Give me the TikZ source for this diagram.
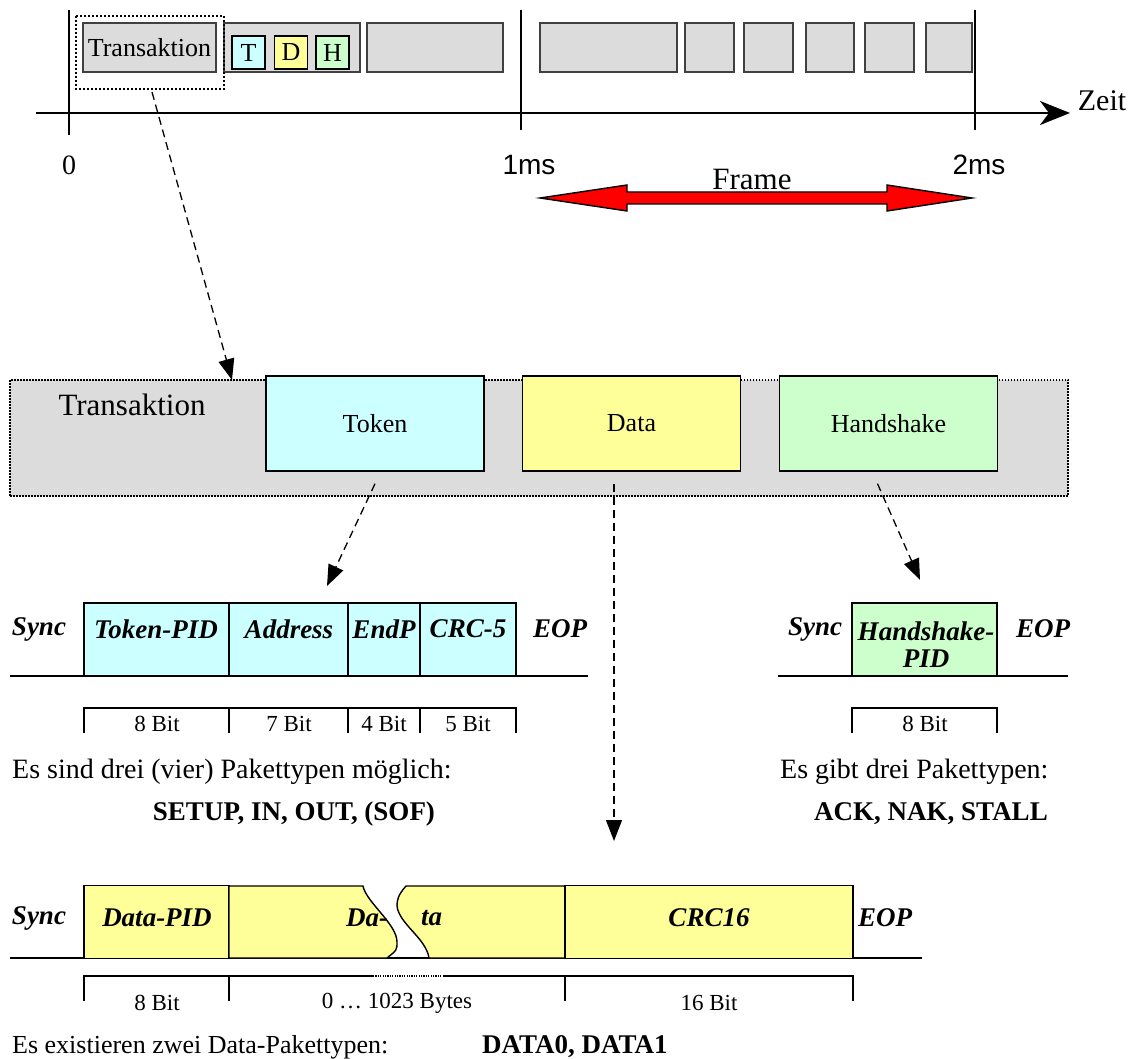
\documentclass[tikz,border=0pt]{standalone}
\usepackage{fontspec}
\setmainfont{Liberation Serif}
\newfontfamily\arialfont{Liberation Sans}
\usetikzlibrary{arrows.meta}
\definecolor{boxgray}{HTML}{DCDCDC}
\definecolor{tokcyan}{HTML}{CCFFFF}
\definecolor{datyellow}{HTML}{FFFF99}
\definecolor{hsgreen}{HTML}{CCFFCC}
\newcommand\fsz[1]{\fontsize{#1}{#1}\selectfont}

\begin{document}
\begin{tikzpicture}[x=1pt,y=-1pt,
  slot/.style={draw=black!75, fill=boxgray, line width=1.4pt, inner sep=0pt, minimum height=49pt},
  tdh/.style={draw=black, line width=1.8pt, inner sep=0pt, minimum width=33pt, minimum height=33pt, font=\fsz{26}},
  phase/.style={draw=black, line width=1.4pt, inner sep=0pt, minimum width=218pt, minimum height=95pt, font=\fsz{26}},
  field/.style={draw=black, line width=1.4pt, inner sep=0pt, minimum height=73pt},
  lbl/.style={font=\bfseries\itshape\fsz{27}, inner sep=0pt},
  bits/.style={font=\fsz{23}, inner sep=0pt},
  note/.style={font=\fsz{28}, inner sep=0pt},
  strong/.style={font=\bfseries\fsz{27}, inner sep=0pt},
  tick/.style={line width=1.4pt},
  bracket/.style={line width=1.4pt},
  conn/.style={line width=1.3pt, dash pattern=on 8pt off 5pt, -{Triangle[length=21pt,width=16pt]}}]
\useasboundingbox (0,0) rectangle (1136,1059);

% ---------- time axis with frame ticks ----------
\coordinate (axL) at (36,113);
\coordinate (axR) at (1070,113);
\draw[line width=2.6pt, -{Stealth[length=30pt,width=24pt,inset=9pt]}] (axL) -- (axR);
\draw[tick] (69,10) -- (69,135);
\draw[tick] (521,10) -- (521,130);
\draw[tick] (975,10) -- (975,130);
\node[font=\fsz{30}, inner sep=0pt] (zeit) at (1102,101) {Zeit};
\node[font=\fsz{28}, inner sep=0pt] (t0) at (69,165) {0};
\node[font=\arialfont\fsz{28}, inner sep=0pt] (t1) at (529,165) {1ms};
\node[font=\arialfont\fsz{28}, inner sep=0pt] (t2) at (979,165) {2ms};

% transactions inside the first frame
\node[slot, minimum width=133pt, font=\fsz{26}] (tr1) at (149.5,47.5) {Transaktion};
\node[slot, minimum width=136pt] (tr2) at (292,47.5) {};
\node[tdh, fill=tokcyan]   (tT) at (248.5,52.5) {T};
\node[tdh, fill=datyellow] (tD) at (291,52.5) {D};
\node[tdh, fill=hsgreen]   (tH) at (332.5,52.5) {H};
\node[slot, minimum width=136pt] (tr3) at (435,47.5) {};
\draw[line width=2pt, dash pattern=on 2pt off 2pt] (76,16) rectangle (224,89);
\coordinate (trsel) at (152,92);

% transactions inside the second frame
\node[slot, minimum width=137pt] (tr4) at (608.5,47.5) {};
\node[slot, minimum width=49pt] (tr5) at (709.5,47.5) {};
\node[slot, minimum width=49pt] (tr6) at (768.5,47.5) {};
\node[slot, minimum width=48pt] (tr7) at (830,47.5) {};
\node[slot, minimum width=49pt] (tr8) at (889.5,47.5) {};
\node[slot, minimum width=46pt] (tr9) at (949,47.5) {};

% frame length arrow
\draw[fill=red, line width=1.4pt, line join=miter]
  (540,198) -- (627,185) -- (627,192) -- (887,192) -- (887,185) -- (972,198)
  -- (887,211) -- (887,204) -- (627,204) -- (627,211) -- cycle;
\node[font=\fsz{31}, inner sep=0pt] (frame) at (752,180) {Frame};

% ---------- transaction ----------
\node[draw=black, line width=1.5pt, dash pattern=on 1.5pt off 1.5pt, fill=boxgray,
      minimum width=1058pt, minimum height=116pt, inner sep=0pt] (trbig) at (539,438) {};
\node[font=\fsz{31}, inner sep=0pt] (trname) at (132,405) {Transaktion};
\node[phase, fill=tokcyan]   (tok) at (375,423.5) {Token};
\node[phase, fill=datyellow] (dat) at (631.5,423.5) {Data};
\node[phase, fill=hsgreen]   (hs)  at (888.5,423.5) {Handshake};
\coordinate (trin) at (232,380);
\draw[conn] (trsel) -- (trin);

% ---------- token packet ----------
\draw[line width=1.4pt] (10,676) -- (588,676);
\node[field, fill=tokcyan, minimum width=145pt] (tpid) at (156.5,639.5) {};
\node[field, fill=tokcyan, minimum width=119pt] (taddr) at (288.5,639.5) {};
\node[field, fill=tokcyan, minimum width=72pt] (tendp) at (384,639.5) {};
\node[field, fill=tokcyan, minimum width=96pt] (tcrc) at (468,639.5) {};
\node[lbl] (tsync) at (39,629) {Sync};
\node[lbl] at (156,629) {Token-PID};
\node[lbl] at (289,629) {Address};
\node[lbl] at (384,629) {EndP};
\node[lbl] at (468,629) {CRC-5};
\node[lbl] (teop) at (560,629) {EOP};
\draw[bracket] (84,733) -- (84,708) -- (516,708) -- (516,733);
\draw[bracket] (229,708) -- (229,733) (348,708) -- (348,733) (420,708) -- (420,733);
\node[bits] at (157,724) {8 Bit};
\node[bits] at (289,724) {7 Bit};
\node[bits] at (384,724) {4 Bit};
\node[bits] at (468,724) {5 Bit};
\node[note, anchor=west] (tnote) at (12,772) {Es sind drei (vier) Pakettypen möglich:};
\node[strong] (ttypes) at (294,814) {SETUP, IN, OUT, (SOF)};
\coordinate (tokpkt) at (327,586);
\draw[conn] ([yshift=-12pt]tok.south) -- (tokpkt);

% ---------- handshake packet ----------
\draw[line width=1.4pt] (778,676) -- (1068,676);
\node[field, fill=hsgreen, minimum width=145pt] (hpid) at (924.5,639.5) {};
\node[lbl] (hsync) at (815,629) {Sync};
\node[lbl, align=center] (hlab) at (926,644.5) {Handshake-\\[0pt]PID};
\node[lbl] (heop) at (1043,629) {EOP};
\draw[bracket] (852,733) -- (852,708) -- (997,708) -- (997,733);
\node[bits] at (925,724) {8 Bit};
\node[note, anchor=west] (hnote) at (780,772) {Es gibt drei Pakettypen:};
\node[strong] (htypes) at (931,814) {ACK, NAK, STALL};
\coordinate (hspkt) at (920,580);
\draw[conn] ([xshift=-11pt,yshift=-12pt]hs.south) -- (hspkt);

% ---------- data packet ----------
\draw[line width=1.4pt] (10,958) -- (922,958);
\node[field, fill=datyellow, minimum width=145pt] (dpid) at (156.5,922) {};
\filldraw[fill=datyellow, line width=1.4pt]
  (229,886) -- (363,886) .. controls (366,902) and (397,924) .. (397,942)
  .. controls (397,950) .. (387,958) -- (229,958) -- cycle;
\filldraw[fill=datyellow, line width=1.4pt]
  (565,886) -- (406,886) .. controls (398,895) and (397,900) .. (397,906)
  .. controls (399,924) and (426,938) .. (429,958) -- (565,958) -- cycle;
\node[field, fill=datyellow, minimum width=288pt] (dcrc) at (709,922) {};
\node[lbl] (dsync) at (39,918) {Sync};
\node[lbl] at (157,918) {Data-PID};
\node[lbl, anchor=west] at (346,918) {Da-};
\node[lbl, anchor=west] at (421,918) {ta};
\node[lbl] at (709,918) {CRC16};
\node[lbl] (deop) at (885,918) {EOP};
\draw[bracket] (84,1001) -- (84,976) -- (373,976);
\draw[bracket, dash pattern=on 1.2pt off 1.2pt] (373,976) -- (444,976);
\draw[bracket] (444,976) -- (853,976) -- (853,1001);
\draw[bracket] (229,976) -- (229,1001) (565,976) -- (565,1001);
\node[bits] at (157,1003) {8 Bit};
\node[bits] at (397,1003) {0 … 1023 Bytes};
\node[bits] at (709,1003) {16 Bit};
\node[font=\fsz{26}, inner sep=0pt, anchor=west] (dnote) at (12,1047) {Es existieren zwei Data-Pakettypen:};
\node[strong, anchor=west] (dtypes) at (482,1047) {DATA0, DATA1};
\coordinate (datpkt) at (614,841);
\draw[conn] ([xshift=-17.5pt,yshift=-12pt]dat.south) -- (datpkt);
\end{tikzpicture}
\end{document}
